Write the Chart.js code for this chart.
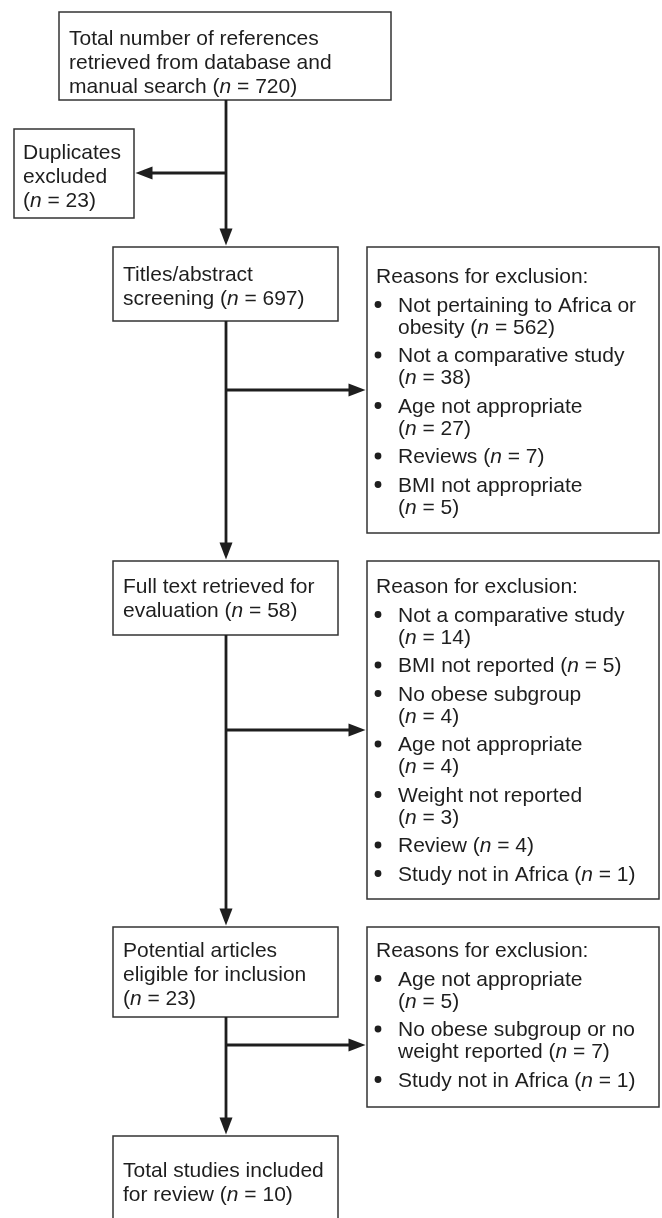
<!DOCTYPE html>
<html lang="en">
  <head>
    <meta charset="utf-8" />
    <title>Study selection flow</title>
    <style>
      * {
        margin: 0;
        padding: 0;
      }
      body {
        background: #fff;
        overflow: hidden;
      }
      .chartBox {
        width: 662px;
        height: 1218px;
      }
    </style>
  </head>
  <body>
    <div class="chartBox">
      <canvas id="myChart"></canvas>
    </div>
    <script src="https://cdn.jsdelivr.net/npm/chart.js/dist/chart.umd.min.js"></script>
    <script>
      // data: a trailing "\n" puts the count on its own line
      const stageText = [
        "Total number of references\nretrieved from database and\nmanual search",
        "Titles/abstract\nscreening",
        "Full text retrieved for\nevaluation",
        "Potential articles\neligible for inclusion\n",
        "Total studies included\nfor review",
      ];
      const stageCounts = [720, 697, 58, 23, 10];

      const duplicateText = "Duplicates\nexcluded\n";
      const duplicateCount = 23;

      const exclusionHeadings = [
        "Reasons for exclusion:",
        "Reason for exclusion:",
        "Reasons for exclusion:",
      ];
      const reasons1 = [
        "Not pertaining to Africa or\nobesity",
        "Not a comparative study\n",
        "Age not appropriate\n",
        "Reviews",
        "BMI not appropriate\n",
      ];
      const reasons1Counts = [562, 38, 27, 7, 5];
      const reasons2 = [
        "Not a comparative study\n",
        "BMI not reported",
        "No obese subgroup\n",
        "Age not appropriate\n",
        "Weight not reported\n",
        "Review",
        "Study not in Africa",
      ];
      const reasons2Counts = [14, 5, 4, 4, 3, 4, 1];
      const reasons3 = [
        "Age not appropriate\n",
        "No obese subgroup or no\nweight reported",
        "Study not in Africa",
      ];
      const reasons3Counts = [5, 7, 1];

      // layout (in axis units, one unit = one pixel)
      const stageBoxes = [
        [59, 12, 391, 100],
        [113, 247, 338, 321],
        [113, 561, 338, 635],
        [113, 927, 338, 1017],
        [113, 1136, 338, 1240],
      ];
      const stageFirstLine = [33, 34, 32, 30, 41];
      const duplicateBox = [14, 129, 134, 218];
      const reasonBoxes = [
        [367, 247, 659, 533],
        [367, 561, 659, 899],
        [367, 927, 659, 1107],
      ];
      const reasonFirstLine = [36, 32, 30];
      const branchY = [390, 730, 1045];
      const duplicateY = 173;
      const spineX = 226;

      const FONT = '"Liberation Sans", Arial, Helvetica, sans-serif';
      const INK = "#1e1e1e";

      function withCount(label, count) {
        if (label.endsWith("\n")) return label + "(n = " + count + ")";
        return label + " (n = " + count + ")";
      }

      // draws a line, with the "n" of "(n = ...)" in italics
      function richText(ctx, text, x, y) {
        const parts = text.split(/(\bn(?= = ))/);
        let cx = x;
        parts.forEach((p, i) => {
          ctx.font = (i % 2 ? "italic " : "") + "21px " + FONT;
          ctx.fillText(p, cx, y);
          cx += ctx.measureText(p).width;
        });
      }

      const flowPlugin = {
        id: "flow",
        afterDraw(chart) {
          const ctx = chart.ctx;
          const sx = chart.scales.x;
          const sy = chart.scales.y;
          const X = (v) => sx.getPixelForValue(v);
          const Y = (v) => sy.getPixelForValue(v);

          ctx.save();
          ctx.textBaseline = "alphabetic";
          ctx.fillStyle = INK;

          function box(b) {
            ctx.strokeStyle = "#333";
            ctx.lineWidth = 1.5;
            ctx.strokeRect(X(b[0]), Y(b[1]), X(b[2]) - X(b[0]), Y(b[3]) - Y(b[1]));
          }

          function arrow(x1, y1, x2, y2) {
            ctx.strokeStyle = INK;
            ctx.lineWidth = 2.8;
            const ang = Math.atan2(Y(y2) - Y(y1), X(x2) - X(x1));
            const len = 17;
            const half = 6.5;
            ctx.beginPath();
            ctx.moveTo(X(x1), Y(y1));
            ctx.lineTo(X(x2) - Math.cos(ang) * (len - 2), Y(y2) - Math.sin(ang) * (len - 2));
            ctx.stroke();
            ctx.beginPath();
            ctx.moveTo(X(x2), Y(y2));
            ctx.lineTo(
              X(x2) - Math.cos(ang) * len - Math.sin(ang) * half,
              Y(y2) - Math.sin(ang) * len + Math.cos(ang) * half
            );
            ctx.lineTo(
              X(x2) - Math.cos(ang) * len + Math.sin(ang) * half,
              Y(y2) - Math.sin(ang) * len - Math.cos(ang) * half
            );
            ctx.closePath();
            ctx.fill();
          }

          // stage boxes
          stageText.forEach((t, i) => {
            const b = stageBoxes[i];
            box(b);
            const lines = withCount(t, stageCounts[i]).split("\n");
            lines.forEach((ln, k) => {
              richText(ctx, ln, X(b[0] + 10), Y(b[1] + stageFirstLine[i] + k * 24));
            });
          });

          // duplicates box
          box(duplicateBox);
          withCount(duplicateText, duplicateCount)
            .split("\n")
            .forEach((ln, k) => {
              richText(ctx, ln, X(duplicateBox[0] + 9), Y(duplicateBox[1] + 30 + k * 24));
            });

          // exclusion boxes
          const groups = [
            [reasons1, reasons1Counts],
            [reasons2, reasons2Counts],
            [reasons3, reasons3Counts],
          ];
          groups.forEach((g, i) => {
            const b = reasonBoxes[i];
            box(b);
            let y = b[1] + reasonFirstLine[i];
            richText(ctx, exclusionHeadings[i], X(b[0] + 9), Y(y));
            g[0].forEach((label, j) => {
              y += 28.5;
              ctx.beginPath();
              ctx.arc(X(b[0] + 11), Y(y - 7), 3.4, 0, Math.PI * 2);
              ctx.fill();
              withCount(label, g[1][j])
                .split("\n")
                .forEach((ln, k) => {
                  if (k > 0) y += 22;
                  richText(ctx, ln, X(b[0] + 31), Y(y));
                });
            });
          });

          // spine with arrows into each stage
          for (let i = 0; i < stageBoxes.length - 1; i++) {
            arrow(spineX, stageBoxes[i][3], spineX, stageBoxes[i + 1][1] - 1.5);
          }

          // side branches
          arrow(spineX, duplicateY, duplicateBox[2] + 1.5, duplicateY);
          branchY.forEach((by, i) => {
            arrow(spineX, by, reasonBoxes[i][0] - 1.5, by);
          });

          ctx.restore();
        },
      };

      const config = {
        type: "scatter",
        data: { datasets: [{ data: [] }] },
        options: {
          responsive: true,
          maintainAspectRatio: false,
          animation: false,
          layout: { padding: 0 },
          plugins: { legend: { display: false }, tooltip: { enabled: false } },
          scales: {
            x: { type: "linear", min: 0, max: 662, display: false },
            y: { type: "linear", min: 0, max: 1218, reverse: true, display: false },
          },
        },
        plugins: [flowPlugin],
      };

      const myChart = new Chart(document.getElementById("myChart"), config);
    </script>
  </body>
</html>
